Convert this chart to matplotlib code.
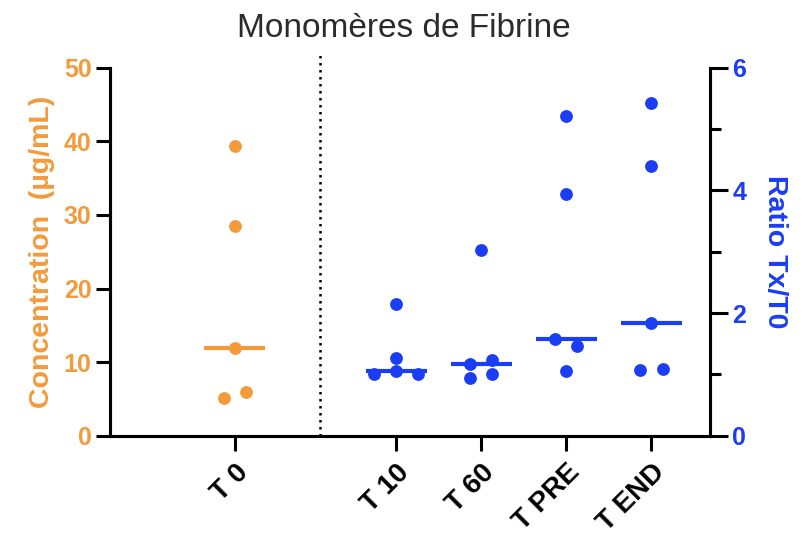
import numpy as np
import matplotlib
matplotlib.use("Agg")
import matplotlib.pyplot as plt
from matplotlib.ticker import MultipleLocator

plt.rcParams['font.family'] = ['Liberation Sans', 'DejaVu Sans']

ORANGE = "#F39A3B"
BLUE = "#1B3DF4"

# concentration at T0 (ug/mL) and ratios Tx/T0, listed in subject order
labels = ["T 0", "T 10", "T 60", "T PRE", "T END"]
t0_conc = [5.1, 6.0, 11.9, 28.5, 39.4]
ratio_t10 = [1.01, 1.05, 1.01, 1.27, 2.15]
ratio_t60 = [0.94, 1.01, 1.17, 1.24, 3.03]
ratio_pre = [1.05, 1.57, 1.46, 3.94, 5.21]
ratio_end = [1.08, 1.09, 1.84, 4.40, 5.43]

xpos = [0, 1.9, 2.9, 3.9, 4.9]


def swarm(vals, thresh, step=0.26):
    # points closer than thresh share a row and are spread sideways
    vals = np.asarray(vals, dtype=float)
    order = np.argsort(vals, kind="stable")
    offs = np.zeros(len(vals))
    groups = [[order[0]]]
    for i in order[1:]:
        if vals[i] - vals[groups[-1][-1]] < thresh:
            groups[-1].append(i)
        else:
            groups.append([i])
    for g in groups:
        g = sorted(g)
        n = len(g)
        for k, i in enumerate(g):
            offs[i] = (k - (n - 1) / 2) * step
    return offs


def draw_group(ax, x, vals, color, thresh):
    offs = swarm(vals, thresh)
    ax.scatter(x + offs, vals, s=85, color=color, zorder=3, linewidths=0)
    med = np.median(vals)
    ax.plot([x - 0.36, x + 0.36], [med, med], color=color, lw=3,
            solid_capstyle="butt", zorder=2)


fig, ax = plt.subplots(figsize=(8.07, 5.38), dpi=100)
fig.subplots_adjust(left=0.136, right=0.88, bottom=0.19, top=0.874)
ax2 = ax.twinx()

draw_group(ax, xpos[0], t0_conc, ORANGE, 1.1)
for x, vals in zip(xpos[1:], [ratio_t10, ratio_t60, ratio_pre, ratio_end]):
    draw_group(ax2, x, vals, BLUE, 0.13)

ax.set_xlim(-1.47, 5.59)
ax.set_ylim(0, 50)
ax2.set_ylim(0, 6)

# separator between absolute and ratio values
ax.plot([1.0, 1.0], [0, 52], color="black", lw=1.8, ls=(0, (1, 1.8)),
        clip_on=False, zorder=1)

for a in (ax, ax2):
    a.spines["top"].set_visible(False)
    for s in ("left", "right", "bottom"):
        a.spines[s].set_linewidth(2.2)

ax.set_xticks(xpos)
ax.set_xticklabels(labels, rotation=45, ha="right", rotation_mode="anchor",
                   fontsize=20, fontweight="bold")
ax.tick_params(axis="x", length=11, width=2.2, pad=6)

ax.yaxis.set_major_locator(MultipleLocator(10))
ax.tick_params(axis="y", length=10, width=2.2, labelsize=18,
               labelcolor=ORANGE, pad=3)
for t in ax.get_yticklabels():
    t.set_fontweight("bold")

ax2.yaxis.set_major_locator(MultipleLocator(2))
ax2.yaxis.set_minor_locator(MultipleLocator(1))
ax2.tick_params(axis="y", which="major", length=13, width=2.2, labelsize=18,
                labelcolor=BLUE, pad=3)
ax2.tick_params(axis="y", which="minor", length=8, width=2.2)
for t in ax2.get_yticklabels():
    t.set_fontweight("bold")

ax.set_ylabel("Concentration  (µg/mL)", color=ORANGE, fontsize=20.5,
              fontweight="bold", labelpad=6)
ax2.set_ylabel("Ratio Tx/T0", color=BLUE, fontsize=20.5, fontweight="bold",
               rotation=-90, labelpad=30)

fig.suptitle("Monomères de Fibrine", fontsize=24, color="#2b2b2b", y=0.975)

fig.savefig("out.png", dpi=100)
